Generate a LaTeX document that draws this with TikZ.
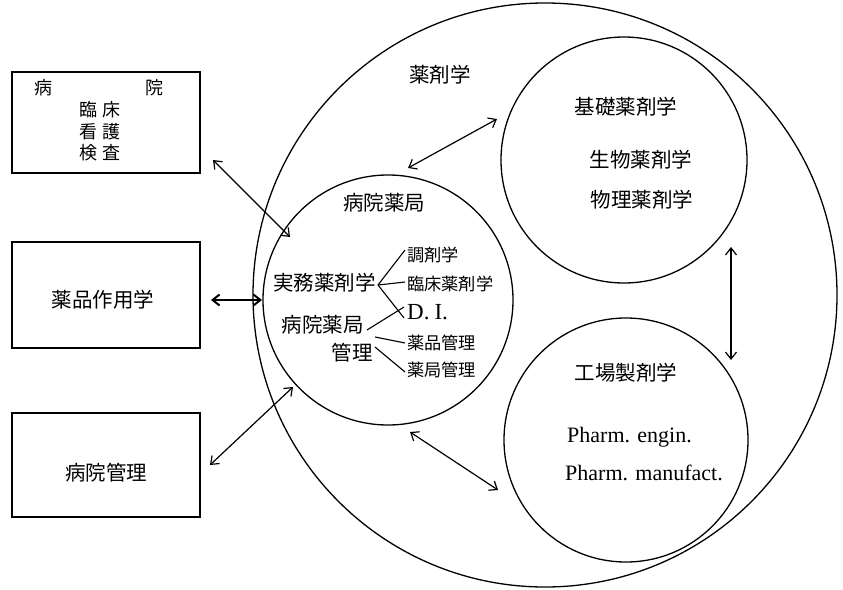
\documentclass[tikz,border=0pt]{standalone}
\usepackage{fontspec}
\setmainfont{Liberation Serif}
\newfontfamily\cjk{Noto Sans CJK JP}
\usetikzlibrary{arrows.meta}
\begin{document}
\begin{tikzpicture}[x=1pt,y=-1pt,
  circ/.style={draw,circle,line width=1.3pt,inner sep=0pt},
  boxn/.style={draw,rectangle,line width=1.6pt,inner sep=0pt},
  big/.style={font=\cjk\fontsize{20.5}{22}\selectfont,inner sep=0pt},
  boxt/.style={font=\cjk\fontsize{18}{20}\selectfont,inner sep=0pt},
  small/.style={font=\cjk\fontsize{17.2}{19}\selectfont,inner sep=0pt,anchor=west},
  latin/.style={font=\fontsize{22}{24}\selectfont,inner sep=0pt,anchor=west},
  biarrow/.style={{Straight Barb[length=7pt,width=11pt]}-{Straight Barb[length=7pt,width=11pt]},line width=1.2pt},
  branch/.style={line width=1.1pt}]
\useasboundingbox (0,0) rectangle (843,589);
% circles
\node[circ,minimum size=584pt] (outer) at (545,295) {};
\node[circ,minimum size=250pt] (hosp) at (388,300) {};
\node[circ,minimum size=246pt] (kiso) at (624,160) {};
\node[circ,minimum size=244pt] (kojo) at (626,440) {};
% boxes
\node[boxn,minimum width=188pt,minimum height=101pt] (box1) at (106,122.5) {};
\node[boxn,minimum width=188pt,minimum height=106pt] (box2) at (106,295) {};
\node[boxn,minimum width=188pt,minimum height=104pt] (box3) at (106,465) {};
% box texts
\node[boxt] (t1a) at (43,88) {病};
\node[boxt] (t1b) at (154,88) {院};
\node[boxt] (t1c) at (100,110) {臨\hspace{6pt}床};
\node[boxt] (t1d) at (100,132) {看\hspace{6pt}護};
\node[boxt] (t1e) at (100,153) {検\hspace{6pt}査};
\node[big] (t2) at (103,300) {薬品作用学};
\node[big] (t3) at (106,473) {病院管理};
% circle texts
\node[big] (yaku) at (440,75) {薬剤学};
\node[big] (kisot) at (626,107) {基礎薬剤学};
\node[big] (seib) at (641,160) {生物薬剤学};
\node[big] (butsu) at (642,200) {物理薬剤学};
\node[big] (kojot) at (626,373) {工場製剤学};
\node[latin] (pe) at (567,437) {Pharm. engin.};
\node[latin] (pm) at (565,473) {Pharm. manufact.};
\node[big] (hospt) at (384,203) {病院薬局};
\node[big,anchor=east] (jitsu) at (376,283) {実務薬剤学};
\node[big,anchor=east] (hk) at (364,325) {病院薬局};
\node[big,anchor=east] (kanri) at (373,353) {管理};
\node[small] (chozai) at (407,255) {調剤学};
\node[small] (rinsho) at (407,284) {臨床薬剤学};
\node[latin,font=\fontsize{23}{25}\selectfont] (di) at (407,312) {D.\hspace{5pt}I.};
\node[small] (hinkan) at (407,343) {薬品管理};
\node[small] (kyokkan) at (407,370) {薬局管理};
% branches
\coordinate (j0) at (378,285);
\coordinate (h0) at (367,330);
\coordinate (h1) at (375,337);
\coordinate (h2) at (375,347);
\draw[branch] (j0) -- ([xshift=-2pt,yshift=5pt]chozai.west);
\draw[branch] (j0) -- ([xshift=-2pt,yshift=2pt]rinsho.west);
\draw[branch] (j0) -- ([xshift=-3pt,yshift=-6pt]di.west);
\draw[branch] (h0) -- ([xshift=-3pt,yshift=5pt]di.west);
\draw[branch] (h1) -- ([xshift=-2pt]hinkan.west);
\draw[branch] (h2) -- ([xshift=-2pt,yshift=-2pt]kyokkan.west);
% arrows
\coordinate (a1s) at (213,160); \coordinate (a1e) at (290,237);
\coordinate (a2s) at (211,300); \coordinate (a2e) at (262,300);
\coordinate (a3s) at (210,465); \coordinate (a3e) at (293,387);
\coordinate (a4s) at (408,168); \coordinate (a4e) at (497,119);
\coordinate (a5s) at (731,247); \coordinate (a5e) at (731,360);
\coordinate (a6s) at (410,432); \coordinate (a6e) at (498,490);
\draw[biarrow] (a1s) -- (a1e);
\draw[biarrow,line width=2pt] (a2s) -- (a2e);
\draw[biarrow] (a3s) -- (a3e);
\draw[biarrow] (a4s) -- (a4e);
\draw[biarrow] (a5s) -- (a5e);
\draw[biarrow] (a6s) -- (a6e);
\end{tikzpicture}
\end{document}
